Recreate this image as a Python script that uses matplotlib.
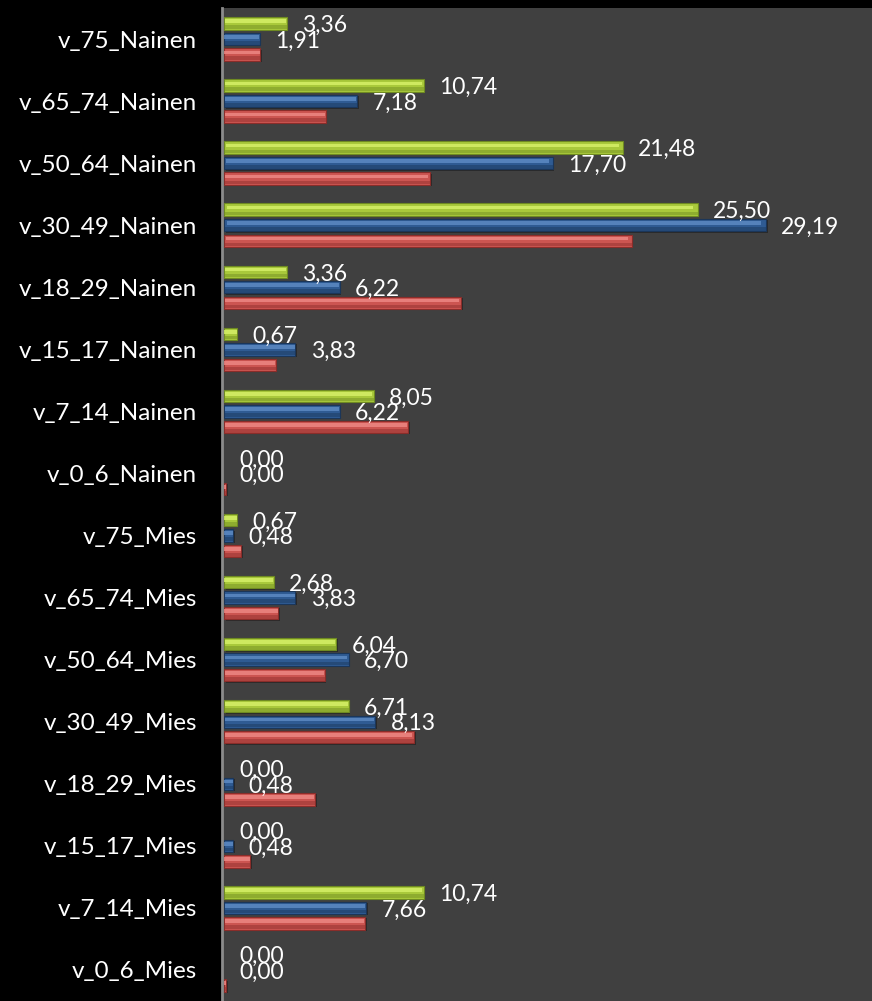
import numpy as np
import matplotlib
matplotlib.use("Agg")
import matplotlib.pyplot as plt

plt.rcParams['font.family'] = ['Lato', 'DejaVu Sans']

# categories, top to bottom
categories = ["v_75_Nainen", "v_65_74_Nainen", "v_50_64_Nainen", "v_30_49_Nainen",
              "v_18_29_Nainen", "v_15_17_Nainen", "v_7_14_Nainen", "v_0_6_Nainen",
              "v_75_Mies", "v_65_74_Mies", "v_50_64_Mies", "v_30_49_Mies",
              "v_18_29_Mies", "v_15_17_Mies", "v_7_14_Mies", "v_0_6_Mies"]

green_vals = [3.36, 10.74, 21.48, 25.50, 3.36, 0.67, 8.05, 0.00,
              0.67, 2.68, 6.04, 6.71, 0.00, 0.00, 10.74, 0.00]
blue_vals = [1.91, 7.18, 17.70, 29.19, 6.22, 3.83, 6.22, 0.00,
             0.48, 3.83, 6.70, 8.13, 0.48, 0.48, 7.66, 0.00]
# red series has no labels
red_vals = [1.93, 5.47, 11.10, 21.95, 12.78, 2.79, 9.92, 0.12,
            0.93, 2.90, 5.42, 10.24, 4.90, 1.41, 7.60, 0.12]

series = [
    (green_vals, -0.25, "#a9c93b", "#d8f26a", "#6f8a22", True),
    (blue_vals, 0.0, "#2f5b93", "#5f8cc6", "#1b3659", True),
    (red_vals, 0.25, "#cc5551", "#ee8a86", "#8a2d2a", False),
]

fig = plt.figure(figsize=(8.72, 10.01), dpi=100, facecolor="black")
ax = fig.add_axes([222 / 872, 0, 1 - 222 / 872, 993 / 1001])
ax.set_facecolor("#404040")

y = np.arange(len(categories))
h = 0.2

for vals, off, col, light, dark, labelled in series:
    vals = np.array(vals)
    lw = [0.8 if v > 0 else 0 for v in vals]
    # shadow
    ax.barh(y + off + 0.02, vals, height=h, left=0.08, color="#2a2a2a", zorder=1)
    # base bar
    ax.barh(y + off, vals, height=h, color=col, edgecolor=dark, linewidth=lw, zorder=2)
    # glossy highlight
    ax.barh(y + off - 0.035, vals * 0.985, height=h * 0.3, left=vals * 0.005,
            color=light, linewidth=0, alpha=0.8, zorder=3)
    # darker lower part
    ax.barh(y + off + 0.06, vals, height=h * 0.3, color=dark, linewidth=0,
            alpha=0.45, zorder=3)
    if labelled:
        for yi, v in zip(y, vals):
            ax.annotate(f"{v:.2f}".replace(".", ","), (v, yi + off),
                        xytext=(11, -1.5), textcoords="offset points",
                        ha="left", va="center", color="white", fontsize=16.5,
                        zorder=5)

ax.set_xlim(-0.12, 34.9)
ax.set_ylim(len(categories) - 0.5, -0.5)
ax.set_yticks(y)
ax.set_yticklabels(categories, color="white", fontsize=17.5)
ax.tick_params(axis="y", length=0, pad=18)
ax.set_xticks([])

for s in ["top", "right", "bottom"]:
    ax.spines[s].set_visible(False)
ax.spines["left"].set_color("#8c8c8c")
ax.spines["left"].set_linewidth(2)

fig.savefig("out.png", dpi=100, facecolor="black")
